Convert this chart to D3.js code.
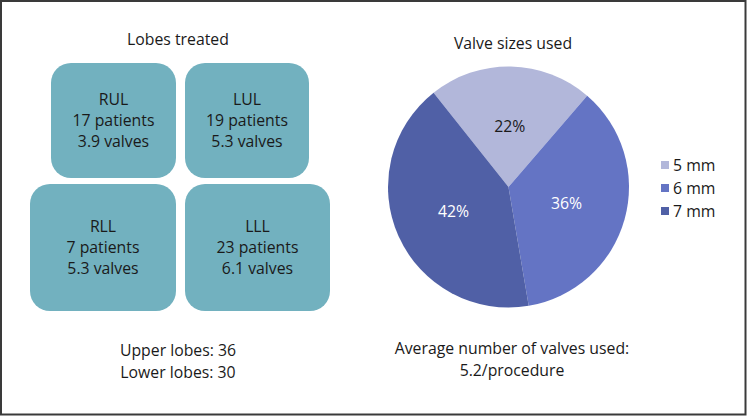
<!DOCTYPE html>
<html>
<head>
<meta charset="utf-8">
<script src="https://cdn.jsdelivr.net/npm/d3@7"></script>
<style>
  html, body { margin: 0; padding: 0; background: #fff; }
  svg { display: block; }
  text { font-family: "Open Sans", "Noto Sans", sans-serif; }
</style>
</head>
<body>
<svg id="chart" width="747" height="416"></svg>
<script>
// ---- data ----
const lobeNames = ["RUL", "LUL", "RLL", "LLL"];
const lobePatients = [17, 19, 7, 23];
const lobeValves = [3.9, 5.3, 5.3, 6.1];
const lobeSummary = ["Upper lobes: 36", "Lower lobes: 30"];
const sizeLabels = ["5 mm", "6 mm", "7 mm"];
const sizeShares = [22, 36, 42];
const averageLines = ["Average number of valves used:", "5.2/procedure"];
const titles = ["Lobes treated", "Valve sizes used"];

// ---- layout ----
const W = 747, H = 416;
const svg = d3.select("#chart");
const textColor = "#1a1a1a";
const fontSize = 15.8;

svg.append("rect")
  .attr("x", 1).attr("y", 1).attr("width", W - 2.5).attr("height", H - 2.5)
  .attr("fill", "#fff").attr("stroke", "#3a3a3a").attr("stroke-width", 2);

// Box layout (x0,x1,y0,y1) per lobe
const boxLayout = [
  { x0: 51, x1: 176, y0: 63, y1: 178 },
  { x0: 185, x1: 309, y0: 63, y1: 178 },
  { x0: 30, x1: 176, y0: 184, y1: 311 },
  { x0: 185, x1: 330, y0: 184, y1: 311 }
];

svg.append("text")
  .attr("x", 178).attr("y", 45)
  .attr("text-anchor", "middle")
  .attr("font-size", fontSize).attr("fill", textColor)
  .text(titles[0]);

const boxes = svg.selectAll("g.box")
  .data(lobeNames.map((n, i) => ({ name: n, p: lobePatients[i], v: lobeValves[i], b: boxLayout[i] })))
  .join("g").attr("class", "box");

boxes.append("rect")
  .attr("x", d => d.b.x0).attr("y", d => d.b.y0)
  .attr("width", d => d.b.x1 - d.b.x0).attr("height", d => d.b.y1 - d.b.y0)
  .attr("rx", 20).attr("ry", 20)
  .attr("fill", "#72b1bf");

boxes.each(function(d) {
  const cx = (d.b.x0 + d.b.x1) / 2;
  const cy = (d.b.y0 + d.b.y1) / 2;
  const lines = [d.name, d.p + " patients", d3.format(".1f")(d.v) + " valves"];
  d3.select(this).selectAll("text")
    .data(lines)
    .join("text")
    .attr("x", cx)
    .attr("y", (t, i) => cy + 5.5 + (i - 1) * 21.3)
    .attr("text-anchor", "middle")
    .attr("font-size", fontSize)
    .attr("fill", textColor)
    .text(t => t);
});

svg.selectAll("text.summary")
  .data(lobeSummary)
  .join("text").attr("class", "summary")
  .attr("x", 178).attr("y", (d, i) => 356 + i * 22)
  .attr("text-anchor", "middle")
  .attr("font-size", fontSize).attr("fill", textColor)
  .text(d => d);

// ---- pie ----
const cx = 508.5, cy = 187, r = 120.5;
svg.append("text")
  .attr("x", 513).attr("y", 48.5)
  .attr("text-anchor", "middle")
  .attr("font-size", fontSize).attr("fill", textColor)
  .text(titles[1]);

const color = d3.scaleOrdinal().domain(sizeLabels).range(["#b2b7da", "#6474c4", "#5060a6"]);
const labelColor = d3.scaleOrdinal().domain(sizeLabels).range([textColor, "#ffffff", "#ffffff"]);
const total = d3.sum(sizeShares);
const start = -sizeShares[0] / total * Math.PI + 0.02;
const pie = d3.pie().sort(null).startAngle(start).endAngle(start + 2 * Math.PI);
const arcs = pie(sizeShares).map((a, i) => ({ ...a, label: sizeLabels[i] }));
const arc = d3.arc().innerRadius(0).outerRadius(r);
const labelArc = d3.arc().innerRadius(0).outerRadius(r);

const pg = svg.append("g").attr("transform", `translate(${cx},${cy})`);
pg.selectAll("path")
  .data(arcs)
  .join("path")
  .attr("d", arc)
  .attr("fill", d => color(d.label));

pg.selectAll("text")
  .data(arcs)
  .join("text")
  .attr("transform", d => { const c = labelArc.centroid(d); return `translate(${c[0]},${c[1]})`; })
  .attr("text-anchor", "middle")
  .attr("dy", "0.35em")
  .attr("font-size", fontSize)
  .attr("fill", d => labelColor(d.label))
  .text(d => d.value + "%");

// legend
const lg = svg.append("g");
const legendY = d3.scalePoint().domain(sizeLabels).range([165, 211]);
lg.selectAll("rect")
  .data(sizeLabels)
  .join("rect")
  .attr("x", 661).attr("y", d => legendY(d) - 4)
  .attr("width", 8).attr("height", 8)
  .attr("fill", d => color(d));
lg.selectAll("text")
  .data(sizeLabels)
  .join("text")
  .attr("x", 673).attr("y", d => legendY(d) + 5.5)
  .attr("font-size", fontSize).attr("fill", textColor)
  .text(d => d);

svg.selectAll("text.avg")
  .data(averageLines)
  .join("text").attr("class", "avg")
  .attr("x", 512).attr("y", (d, i) => 353.5 + i * 22.5)
  .attr("text-anchor", "middle")
  .attr("font-size", fontSize).attr("fill", textColor)
  .text(d => d);
</script>
</body>
</html>
